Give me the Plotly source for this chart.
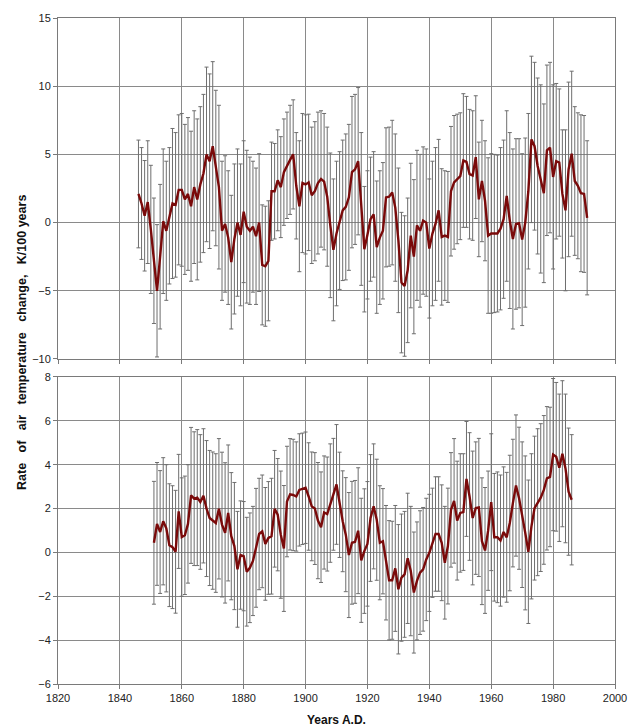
import plotly.graph_objects as go

# ---------------- data ----------------
years_top = list(range(1846, 1992))
rate_top = [
    2.1, 1.4, 0.5, 1.5, -0.5, -2.8, -5.0, -2.5, 0.1, -0.6,          # 1846-1855
    0.5, 1.4, 1.3, 2.4, 2.4, 1.7, 2.1, 1.2, 2.6, 1.7,                # 1856-1865
    2.8, 3.6, 5.0, 4.5, 5.6, 4.0, 2.6, -0.6, -0.1, -1.1,             # 1866-1875
    -2.9, -1.2, 0.0, -0.9, 0.8, -0.3, -0.6, -0.3, -1.0, 0.0,         # 1876-1885
    -3.1, -3.2, -2.8, 2.3, 2.3, 3.1, 2.6, 3.7, 4.2, 4.6,             # 1886-1895
    5.0, 2.7, 1.2, 2.9, 2.8, 2.95, 2.0, 2.3, 2.9, 3.2,               # 1896-1905
    3.0, 1.9, -0.2, -2.0, -0.8, 0.15, 0.9, 1.15, 1.85, 3.7,          # 1906-1915
    3.9, 4.5, 1.0, -1.95, -0.9, 0.25, 0.6, -1.8, -1.1, -0.6,         # 1916-1925
    1.85, 1.9, 2.2, 1.1, -1.3, -4.4, -4.65, -3.5, -0.95, -2.5,       # 1926-1935
    -0.2, -0.6, 0.15, 0.0, -1.9, -0.8, -0.1, 0.9, -1.05, -0.95,      # 1936-1945
    -1.05, 2.3, 2.95, 3.2, 3.4, 4.55, 4.45, 3.55, 3.45, 4.8,         # 1946-1955
    1.7, 3.05, 1.6, -0.95, -0.8, -0.8, -0.8, -0.45, 0.25, 1.95,      # 1956-1965
    0.15, -1.2, -0.1, -0.05, -1.25, 0.0, 2.3, 6.1, 5.6, 4.15,        # 1966-1975
    3.2, 2.15, 5.3, 5.5, 3.35, 4.5, 4.4, 2.1, 0.9, 3.9,              # 1976-1985
    5.05, 3.05, 2.7, 2.15, 2.1, 0.35,                                # 1986-1991
]
err_top = [
    3.95, 4.1, 4.05, 4.5, 4.7, 4.6, 4.85, 5.3, 5.3, 5.1,
    5.0, 5.5, 5.3, 5.5, 5.6, 5.5, 5.6, 5.5, 5.6, 5.9,
    5.7, 5.8, 6.4, 6.4, 6.2, 5.7, 6.0, 5.1, 5.0, 4.9,
    4.9, 5.5, 5.4, 5.2, 5.2, 5.6, 5.4, 4.8, 5.0, 5.05,
    4.4, 4.4, 4.4, 3.6, 3.5, 3.7, 3.7, 3.9, 3.9, 4.0,
    4.0, 3.9, 4.8, 5.1, 5.1, 5.0, 5.0, 5.1, 5.2, 5.0,
    5.0, 5.1, 5.3, 5.2, 5.3, 5.05, 5.15, 5.35, 5.35, 5.55,
    5.5, 5.4, 5.6, 4.6, 4.7, 4.55, 4.6, 4.85, 4.9, 5.0,
    5.1, 5.1, 5.3, 5.4, 5.3, 5.15, 5.15, 5.3, 5.3, 5.65,
    5.5, 5.6, 5.4, 5.4, 5.1, 5.3, 5.6, 5.2, 5.0, 4.75,
    4.8, 4.75, 4.9, 4.75, 4.65, 4.9, 4.8, 4.75, 4.75, 4.5,
    4.2, 4.45, 4.4, 5.7, 5.85, 5.8, 5.75, 5.95, 5.8, 6.25,
    6.45, 6.6, 6.25, 6.2, 6.3, 6.2, 5.7, 6.1, 6.15, 6.45,
    6.9, 6.55, 6.25, 6.25, 6.75, 5.7, 5.4, 4.7, 5.9, 6.4,
    6.05, 5.45, 5.35, 5.75, 5.75, 5.65,
]

years_bot = list(range(1851, 1987))
rate_bot = [
    0.44, 1.3, 0.93, 1.42, 1.1, 0.33, 0.24, 0.03, 1.87,              # 1851-1859
    0.7, 0.78, 1.3, 2.6, 2.45, 2.5, 2.3, 2.58, 2.0, 1.57,            # 1860-1869
    1.45, 1.34, 1.99, 1.27, 0.89, 1.8, 0.74, 0.29, -0.77, -0.12,     # 1870-1879
    -0.17, -0.88, -0.7, -0.39, 0.21, 0.84, 0.96, 0.39, 0.66, 0.74,   # 1880-1889
    1.99, 1.72, 0.81, 0.18, 2.32, 2.65, 2.62, 2.55, 2.85, 2.9,       # 1890-1899
    2.95, 2.55, 2.1, 2.0, 1.45, 1.15, 1.82, 1.75, 2.25, 2.65,        # 1900-1909
    3.1, 2.17, 1.42, 0.81, -0.12, 0.44, 0.48, 0.99, -0.36, 0.06,     # 1910-1919
    0.39, 1.57, 2.1, 1.49, 0.44, 0.51, -0.47, -1.27, -1.27, -0.73,   # 1920-1929
    -1.68, -1.15, -1.0, -0.27, -0.85, -1.83, -1.3, -0.92, -0.77, -0.32,  # 1930-1939
    -0.02, 0.44, 0.84, 0.84, 0.44, -0.47, 0.29, 1.94, 2.35, 1.45,    # 1940-1949
    1.8, 1.84, 3.35, 2.55, 1.57, 2.02, 2.05, 0.51, 0.09, 0.99,       # 1950-1959
    2.29, 0.69, 0.69, 0.54, 0.93, 0.69, 1.34, 2.25, 3.05, 2.47,      # 1960-1969
    1.72, 0.89, 0.03, 1.19, 2.02, 2.29, 2.5, 2.85, 3.38, 3.44,       # 1970-1979
    4.46, 4.36, 3.86, 4.5, 3.83, 2.77, 2.4,                          # 1980-1986
]
err_bot = [
    2.8, 2.8, 2.8, 2.9, 2.9, 2.8, 2.8, 2.8, 2.6,
    2.7, 2.7, 2.7, 3.1, 3.05, 3.1, 3.07, 3.06, 3.1, 3.08,
    3.13, 3.16, 3.2, 3.3, 3.2, 3.1, 2.9, 2.9, 2.64, 2.47,
    2.49, 2.48, 2.5, 2.49, 2.71, 2.54, 2.57, 2.57, 2.57, 2.64,
    2.66, 2.56, 2.9, 2.87, 2.52, 2.54, 2.54, 2.49, 2.56, 2.54,
    2.54, 2.45, 2.48, 2.55, 2.65, 2.52, 2.58, 2.6, 2.7, 2.55,
    2.73, 2.4, 2.3, 2.6, 2.85, 2.8, 2.8, 2.87, 2.83, 2.84,
    2.84, 2.89, 2.85, 2.76, 2.6, 2.4, 2.61, 2.72, 2.69, 2.87,
    2.95, 2.9, 2.87, 2.97, 2.95, 2.76, 2.69, 2.82, 2.82, 2.79,
    2.67, 2.49, 2.61, 2.61, 2.64, 2.57, 2.64, 2.61, 2.84, 2.71,
    2.7, 2.66, 2.62, 2.91, 3.05, 3.02, 3.15, 2.89, 2.87, 2.72,
    3.12, 2.91, 2.98, 2.99, 2.97, 2.96, 3.09, 2.91, 3.22, 3.24,
    3.32, 3.51, 3.27, 3.31, 3.28, 3.35, 3.37, 3.39, 3.27, 3.18,
    3.47, 3.39, 3.36, 3.33, 3.39, 2.9, 2.97,
]

x_ticks = [1820, 1840, 1860, 1880, 1900, 1920, 1940, 1960, 1980, 2000]
y_ticks_top = [-10, -5, 0, 5, 10, 15]
y_ticks_bot = [-6, -4, -2, 0, 2, 4, 6, 8]

GAP = "\u00a0" * 3
y_title = GAP.join(["Rate", "of", "air", "temperature", "change,", "K/100 years"])
x_title = "Years A.D."

# ---------------- styles ----------------
LINE_COLOR = "#7a0a0a"
ERR_COLOR = "#6e6e6e"
GRID = "#8a8a8a"
FONT = "Liberation Sans, Arial, sans-serif"

fig = go.Figure()

fig.add_trace(go.Scatter(
    x=years_top, y=rate_top, mode="lines",
    line=dict(color=LINE_COLOR, width=2.4),
    error_y=dict(type="data", array=err_top, symmetric=True,
                 color=ERR_COLOR, thickness=1, width=2),
    xaxis="x", yaxis="y", showlegend=False, hoverinfo="skip",
))
fig.add_trace(go.Scatter(
    x=years_bot, y=rate_bot, mode="lines",
    line=dict(color=LINE_COLOR, width=2.4),
    error_y=dict(type="data", array=err_bot, symmetric=True,
                 color=ERR_COLOR, thickness=1, width=2),
    xaxis="x2", yaxis="y2", showlegend=False, hoverinfo="skip",
))

axis_common = dict(
    showgrid=True, gridcolor=GRID, gridwidth=1,
    showline=True, linecolor="#7a7a7a", linewidth=1, mirror=True,
    ticks="outside", ticklen=4, tickcolor="#7a7a7a",
    zeroline=False,
    tickfont=dict(family=FONT, size=11, color="#222"),
)

fig.update_layout(
    width=639, height=726,
    margin=dict(l=58, r=15, t=13, b=42),
    paper_bgcolor="white", plot_bgcolor="white",
    font=dict(family=FONT, size=11, color="#222"),
    xaxis=dict(domain=[0, 1], range=[1820, 2000], tickvals=x_ticks,
               showticklabels=False, anchor="y", **axis_common),
    yaxis=dict(domain=[0.488, 1.0], range=[-10, 15], tickvals=y_ticks_top,
               anchor="x", **axis_common),
    xaxis2=dict(domain=[0, 1], range=[1820, 2000], tickvals=x_ticks,
                anchor="y2", **axis_common),
    yaxis2=dict(domain=[0.0, 0.461], range=[-6, 8], tickvals=y_ticks_bot,
                anchor="x2", **axis_common),
    annotations=[
        dict(text="<b>" + y_title + "</b>", textangle=-90,
             xref="paper", yref="paper", x=-0.0636, y=0.513,
             xanchor="center", yanchor="middle", showarrow=False,
             font=dict(family=FONT, size=12.5, color="#111")),
        dict(text="<b>" + x_title + "</b>",
             xref="paper", yref="paper", x=0.5, y=-0.054,
             xanchor="center", yanchor="middle", showarrow=False,
             font=dict(family=FONT, size=12, color="#111")),
    ],
)

fig.write_html("out.html",
               config={"displayModeBar": False},
               post_script="document.body.style.margin='0';document.body.style.overflow='hidden';")
